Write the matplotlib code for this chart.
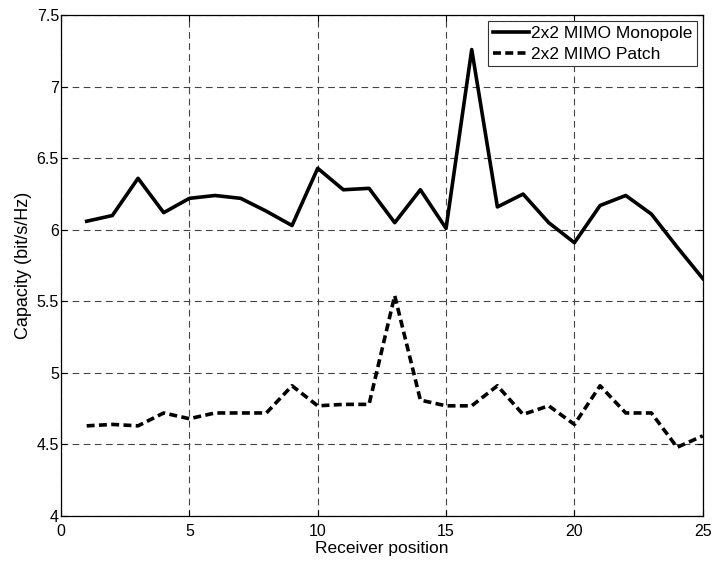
import matplotlib
matplotlib.use("Agg")
import matplotlib.pyplot as plt

plt.rcParams['font.family'] = ['Liberation Sans', 'DejaVu Sans']

positions = list(range(1, 26))
monopole = [6.06, 6.10, 6.36, 6.12, 6.22, 6.24, 6.22, 6.13, 6.03, 6.43,
            6.28, 6.29, 6.05, 6.28, 6.01, 7.26, 6.16, 6.25, 6.05, 5.91,
            6.17, 6.24, 6.11, 5.88, 5.66]
patch = [4.63, 4.64, 4.63, 4.72, 4.68, 4.72, 4.72, 4.72, 4.91, 4.77,
         4.78, 4.78, 5.54, 4.81, 4.77, 4.77, 4.91, 4.71, 4.77, 4.64,
         4.91, 4.72, 4.72, 4.48, 4.56]
xticks = [0, 5, 10, 15, 20, 25]
yticks = [4, 4.5, 5, 5.5, 6, 6.5, 7, 7.5]
ytick_labels = ['4', '4.5', '5', '5.5', '6', '6.5', '7', '7.5']

fig = plt.figure(figsize=(7.12, 5.63), dpi=100)
ax = fig.add_axes([0.0857, 0.0835, 0.9013, 0.8895])
ax.plot(positions, monopole, color='black', linewidth=2.6, linestyle='-',
        label='2x2 MIMO Monopole')
ax.plot(positions, patch, color='black', linewidth=2.6, linestyle=(0, (2.2, 1.2)),
        label='2x2 MIMO Patch')
ax.set_xlim(0, 25)
ax.set_ylim(4, 7.5)
ax.set_xticks(xticks)
ax.set_yticks(yticks)
ax.set_yticklabels(ytick_labels)
ax.tick_params(direction='in', labelsize=11.5, length=4, top=True, right=True)
ax.tick_params(axis='x', pad=6)
ax.tick_params(axis='y', pad=1.5)
ax.grid(True, color='#444444', linestyle=(0, (6, 4)), linewidth=0.8)
ax.set_xlabel('Receiver position', fontsize=12.5, labelpad=1)
ax.set_ylabel('Capacity (bit/s/Hz)', fontsize=13, labelpad=3)
for s in ax.spines.values():
    s.set_linewidth(0.9)
leg = ax.legend(loc='upper right', fontsize=12.5, fancybox=False, framealpha=1,
                edgecolor='#333333', borderaxespad=0.35, handlelength=2.1,
                handletextpad=0.1, borderpad=0.25, labelspacing=0.35)
leg.get_frame().set_linewidth(0.8)
fig.savefig('out.png', dpi=100)
